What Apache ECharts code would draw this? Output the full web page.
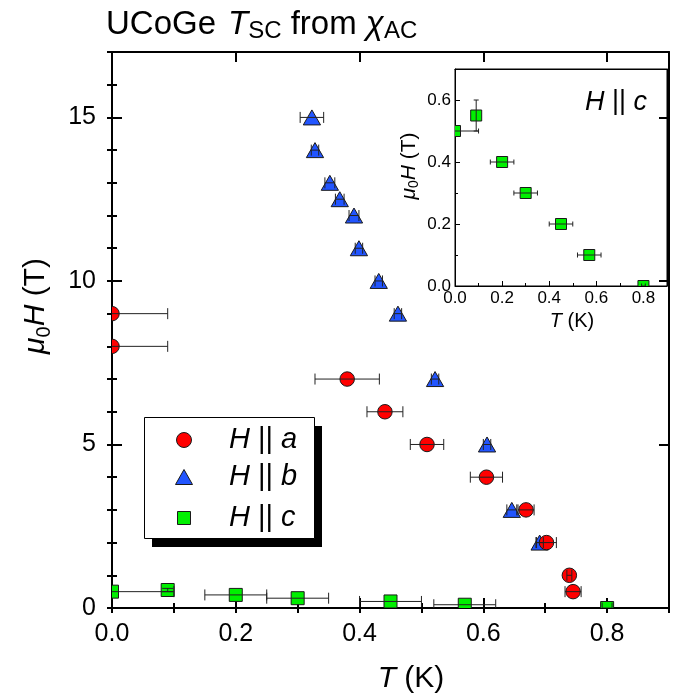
<!DOCTYPE html>
<html>
<head>
<meta charset="utf-8">
<script src="https://cdn.jsdelivr.net/npm/echarts@6/dist/echarts.min.js"></script>
<style>
  html, body { margin: 0; padding: 0; background: #fff; }
  #chart { width: 687px; height: 694px; }
</style>
</head>
<body>
<div id="chart"></div>
<script>
// H || a : temperature (K), field (T), horizontal error (K)
const tA  = [0, 0, 0.38, 0.441, 0.509, 0.605, 0.669, 0.702, 0.739, 0.745];
const hA  = [9, 8, 7, 6, 5, 4, 3, 2, 1, 0.5];
const dtA = [0.09, 0.09, 0.052, 0.029, 0.027, 0.026, 0.013, 0.016, 0.004, 0.013];

// H || b
const tB  = [0.323, 0.328, 0.352, 0.368, 0.391, 0.399, 0.431, 0.462, 0.522, 0.606, 0.646, 0.691];
const hB  = [15, 14, 13, 12.5, 12, 11, 10, 9, 7, 5, 3, 2];
const dtB = [0.019, 0.006, 0.008, 0.007, 0.008, 0.006, 0.006, 0.006, 0.006, 0.006, 0.008, 0.006];

// H || c (also shown enlarged in the inset)
const tC  = [0, 0.09, 0.2, 0.3, 0.45, 0.57, 0.8];
const hC  = [0.5, 0.55, 0.4, 0.3, 0.2, 0.1, 0];
const dtC = [0.1, 0, 0.05, 0.05, 0.05, 0.05, 0.008];
const dhC = [0, 0.05, 0, 0, 0, 0, 0];

// axis ticks
const mainXTicks = [0, 0.2, 0.4, 0.6, 0.8];
const mainYTicks = [0, 5, 10, 15];
const insetXTicks = [0, 0.2, 0.4, 0.6, 0.8];
const insetYTicks = [0, 0.2, 0.4, 0.6];

const RED = '#ff0000', BLUE = '#2255ff', GREEN = '#00f000', EDGE = '#1a1a1a';
const FONT = '"Liberation Sans", Arial, Helvetica, sans-serif';

const chart = echarts.init(document.getElementById('chart'), null, { renderer: 'canvas' });

function rows(t, h, dt, dh) {
  return t.map((v, i) => [v, h[i], dt ? dt[i] : 0, dh ? dh[i] : 0]);
}

function near(list, v) {
  return list.some(k => Math.abs(k - v) < 1e-6);
}

// marker shapes drawn through the axes' coordinate mapping
function markerRender(kind, size, color) {
  return function (params, api) {
    const p = api.coord([api.value(0), api.value(1)]);
    const style = { fill: color, stroke: EDGE, lineWidth: 1 };
    if (kind === 'circle') {
      return { type: 'circle', shape: { cx: p[0], cy: p[1], r: size / 2 }, style };
    }
    if (kind === 'triangle') {
      const w = size * 1.15, hgt = size;
      return { type: 'polygon', shape: { points: [
        [p[0], p[1] - hgt / 2], [p[0] + w / 2, p[1] + hgt / 2], [p[0] - w / 2, p[1] + hgt / 2]
      ] }, style };
    }
    return { type: 'rect', shape: { x: p[0] - size / 2, y: p[1] - size / 2, width: size, height: size }, style };
  };
}

function errRender(cap) {
  return function (params, api) {
    const x = api.value(0), y = api.value(1), dx = api.value(2), dy = api.value(3);
    const children = [];
    const ls = { stroke: '#222', lineWidth: 1 };
    if (dx > 0) {
      const l = api.coord([x - dx, y]), r = api.coord([x + dx, y]);
      children.push({ type: 'line', shape: { x1: l[0], y1: l[1], x2: r[0], y2: r[1] }, style: ls });
      children.push({ type: 'line', shape: { x1: l[0], y1: l[1] - cap, x2: l[0], y2: l[1] + cap }, style: ls });
      children.push({ type: 'line', shape: { x1: r[0], y1: r[1] - cap, x2: r[0], y2: r[1] + cap }, style: ls });
    }
    if (dy > 0) {
      const b = api.coord([x, y - dy]), t = api.coord([x, y + dy]);
      children.push({ type: 'line', shape: { x1: b[0], y1: b[1], x2: t[0], y2: t[1] }, style: ls });
      children.push({ type: 'line', shape: { x1: b[0] - cap, y1: b[1], x2: b[0] + cap, y2: b[1] }, style: ls });
      children.push({ type: 'line', shape: { x1: t[0] - cap, y1: t[1], x2: t[0] + cap, y2: t[1] }, style: ls });
    }
    return { type: 'group', children };
  };
}

function axisBase(extra) {
  return Object.assign({
    type: 'value',
    splitLine: { show: false },
    axisLabel: { show: false },
    axisTick: { show: false },
    axisLine: { show: false }
  }, extra);
}

const mainLine = { show: true, onZero: false, lineStyle: { color: '#000', width: 2 } };
const insetLine = { show: true, onZero: false, lineStyle: { color: '#000', width: 1 } };

function tickSet(len, width) {
  return { show: true, inside: true, length: len, lineStyle: { color: '#000', width: width } };
}

const xAxes = [
  // main plot: bottom (labels + major), bottom minor, top major, top minor
  axisBase({ gridIndex: 0, position: 'bottom', min: 0, max: 0.9, interval: 0.2,
    axisLine: mainLine, axisTick: tickSet(10, 2),
    axisLabel: { show: true, margin: 14, color: '#000', fontSize: 25, fontFamily: FONT,
      formatter: v => near(mainXTicks, v) ? v.toFixed(1) : '' } }),
  axisBase({ gridIndex: 0, position: 'bottom', min: 0, max: 0.9, interval: 0.1, axisTick: tickSet(5, 2) }),
  axisBase({ gridIndex: 0, position: 'top', min: 0, max: 0.9, interval: 0.2, axisLine: mainLine, axisTick: tickSet(10, 2) }),
  axisBase({ gridIndex: 0, position: 'top', min: 0, max: 0.9, interval: 0.1, axisTick: tickSet(5, 2) }),
  // inset
  axisBase({ gridIndex: 1, position: 'bottom', min: 0, max: 0.9, interval: 0.2,
    axisLine: insetLine, axisTick: tickSet(5, 1),
    axisLabel: { show: true, margin: 4, color: '#000', fontSize: 17, fontFamily: FONT,
      formatter: v => near(insetXTicks, v) ? v.toFixed(1) : '' } }),
  axisBase({ gridIndex: 1, position: 'bottom', min: 0, max: 0.9, interval: 0.1, axisTick: tickSet(3, 1) }),
  axisBase({ gridIndex: 1, position: 'top', min: 0, max: 0.9, interval: 0.2, axisLine: insetLine })
];

const yAxes = [
  axisBase({ gridIndex: 0, position: 'left', min: 0, max: 17, interval: 5,
    axisLine: mainLine, axisTick: tickSet(10, 2),
    axisLabel: { show: true, margin: 16, color: '#000', fontSize: 25, fontFamily: FONT,
      formatter: v => near(mainYTicks, v) ? String(v) : '' } }),
  axisBase({ gridIndex: 0, position: 'left', min: 0, max: 17, interval: 1, axisTick: tickSet(5, 2) }),
  axisBase({ gridIndex: 0, position: 'right', min: 0, max: 17, interval: 5, axisLine: mainLine, axisTick: tickSet(10, 2) }),
  axisBase({ gridIndex: 0, position: 'right', min: 0, max: 17, interval: 1, axisTick: tickSet(5, 2) }),
  axisBase({ gridIndex: 1, position: 'left', min: 0, max: 0.7, interval: 0.2,
    axisLine: insetLine, axisTick: tickSet(5, 1),
    axisLabel: { show: true, margin: 4, color: '#000', fontSize: 17, fontFamily: FONT,
      formatter: v => near(insetYTicks, v) ? v.toFixed(1) : '' } }),
  axisBase({ gridIndex: 1, position: 'left', min: 0, max: 0.7, interval: 0.1, axisTick: tickSet(3, 1) }),
  axisBase({ gridIndex: 1, position: 'right', min: 0, max: 0.7, interval: 0.2, axisLine: insetLine })
];

function markers(name, data, xi, yi, kind, size, color, z) {
  return { name, type: 'custom', xAxisIndex: xi, yAxisIndex: yi, clip: true, z,
    renderItem: markerRender(kind, size, color), data, encode: { x: 0, y: 1 } };
}
function errors(name, data, xi, yi, cap, z) {
  return { name: name + ' err', type: 'custom', xAxisIndex: xi, yAxisIndex: yi, clip: true, z,
    renderItem: errRender(cap), data, encode: { x: 0, y: 1 } };
}

const dA = rows(tA, hA, dtA), dB = rows(tB, hB, dtB), dC = rows(tC, hC, dtC, dhC);

const series = [
  markers('H || b', dB, 0, 0, 'triangle', 15, BLUE, 2),
  markers('H || a', dA, 0, 0, 'circle', 14.5, RED, 3),
  markers('H || c', dC, 0, 0, 'square', 13, GREEN, 4),
  errors('H || b', dB, 0, 0, 5.5, 5),
  errors('H || a', dA, 0, 0, 5.5, 5),
  errors('H || c', dC, 0, 0, 5.5, 5),
  markers('H || c inset', dC, 4, 4, 'square', 11, GREEN, 6),
  errors('H || c inset', dC, 4, 4, 2.5, 7)
];

const it = { fontStyle: 'italic', fontSize: 29, fontFamily: FONT, color: '#000' };
const rg = { fontStyle: 'normal', fontSize: 29, fontFamily: FONT, color: '#000' };

function legendRow(y, letter) {
  return { type: 'text', x: 229, y: y, style: {
    text: '{i|H}{r| || }{i|' + letter + '}', align: 'left', verticalAlign: 'middle',
    rich: { i: it, r: rg } } };
}

const graphic = [
  // title
  { type: 'text', x: 106, y: 25, style: {
    text: '{r|UCoGe}{g|}{i|T}{s|SC}{r| from }{i|χ}{s|AC}', align: 'left', verticalAlign: 'middle',
    rich: {
      r: { fontSize: 33, fontFamily: FONT, color: '#000', lineHeight: 36 },
      g: { width: 12, lineHeight: 36 },
      i: { fontSize: 33, fontFamily: FONT, fontStyle: 'italic', color: '#000', lineHeight: 36 },
      s: { fontSize: 24, fontFamily: FONT, color: '#000', lineHeight: 13, verticalAlign: 'bottom' }
    } } },
  // main axis titles
  { type: 'text', x: 411, y: 679, style: {
    text: '{i|T}{r| (K)}', align: 'center', verticalAlign: 'middle',
    rich: { i: { fontSize: 30, fontFamily: FONT, fontStyle: 'italic', color: '#000' },
            r: { fontSize: 30, fontFamily: FONT, color: '#000' } } } },
  { type: 'text', x: 36, y: 306, rotation: Math.PI / 2, style: {
    text: '{i|μ}{s|0}{i|H}{r| (T)}', align: 'center', verticalAlign: 'middle',
    rich: { i: { fontSize: 30, fontFamily: FONT, fontStyle: 'italic', color: '#000', lineHeight: 36 },
            r: { fontSize: 30, fontFamily: FONT, color: '#000', lineHeight: 36 },
            s: { fontSize: 20, fontFamily: FONT, color: '#000', lineHeight: 14, verticalAlign: 'bottom' } } } },
  // inset axis titles and label
  { type: 'text', x: 572, y: 321, style: {
    text: '{i|T}{r| (K)}', align: 'center', verticalAlign: 'middle',
    rich: { i: { fontSize: 20, fontFamily: FONT, fontStyle: 'italic', color: '#000' },
            r: { fontSize: 20, fontFamily: FONT, color: '#000' } } } },
  { type: 'text', x: 409, y: 166, rotation: Math.PI / 2, style: {
    text: '{i|μ}{s|0}{i|H}{r| (T)}', align: 'center', verticalAlign: 'middle',
    rich: { i: { fontSize: 21, fontFamily: FONT, fontStyle: 'italic', color: '#000', lineHeight: 24 },
            r: { fontSize: 21, fontFamily: FONT, color: '#000', lineHeight: 24 },
            s: { fontSize: 14, fontFamily: FONT, color: '#000', lineHeight: 9, verticalAlign: 'bottom' } } } },
  { type: 'text', x: 616, y: 102, z: 20, style: {
    text: '{i|H}{r| || }{i|c}', align: 'center', verticalAlign: 'middle',
    rich: { i: Object.assign({}, it, { fontSize: 27 }), r: Object.assign({}, rg, { fontSize: 27 }) } } },
  // legend box with hard drop shadow
  { type: 'group', z: 10, children: [
    { type: 'rect', shape: { x: 152, y: 426, width: 170, height: 121 }, style: { fill: '#000' } },
    { type: 'rect', shape: { x: 144.5, y: 417.5, width: 170, height: 121 }, style: { fill: '#fff', stroke: '#000', lineWidth: 1 } },
    { type: 'circle', shape: { cx: 184, cy: 440, r: 7.5 }, style: { fill: RED, stroke: EDGE, lineWidth: 1 } },
    { type: 'polygon', shape: { points: [[184, 469.5], [192.5, 484.5], [175.5, 484.5]] }, style: { fill: BLUE, stroke: EDGE, lineWidth: 1 } },
    { type: 'rect', shape: { x: 177.5, y: 511.5, width: 13, height: 13 }, style: { fill: GREEN, stroke: EDGE, lineWidth: 1 } },
    legendRow(440, 'a'),
    legendRow(477, 'b'),
    legendRow(518, 'c')
  ] }
];

chart.setOption({
  animation: false,
  backgroundColor: '#fff',
  grid: [
    { left: 112, top: 52, width: 557, height: 556, containLabel: false },
    { left: 455, top: 69, width: 212, height: 217, containLabel: false, show: true,
      backgroundColor: 'rgba(0,0,0,0)', borderColor: '#000', borderWidth: 1 }
  ],
  xAxis: xAxes,
  yAxis: yAxes,
  series: series,
  graphic: graphic
});
</script>
</body>
</html>
